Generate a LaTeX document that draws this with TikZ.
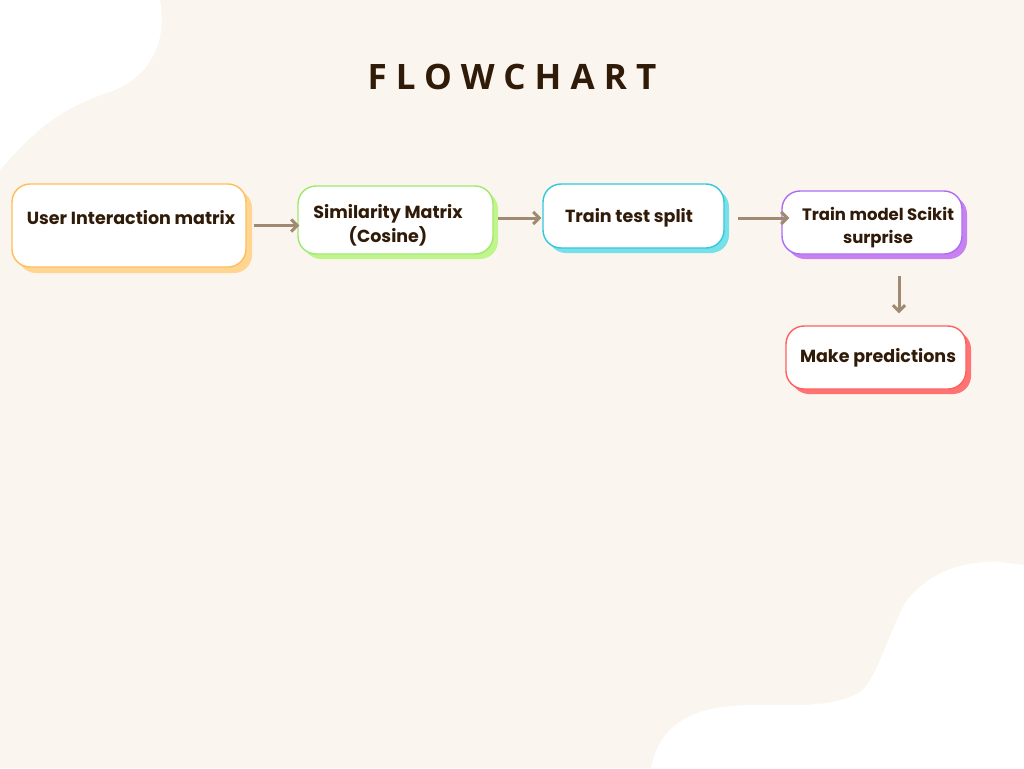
\documentclass[tikz,border=0pt]{standalone}
\usepackage{fontspec}
\setmainfont{Poppins}
\newfontfamily\titlefont[LetterSpace=26]{Open Sans}
\usetikzlibrary{arrows.meta,shadows}
\definecolor{bgcream}{RGB}{250,245,239}
\definecolor{inkbrown}{RGB}{48,26,8}
\definecolor{arrowtaupe}{RGB}{160,138,114}
\definecolor{orangeline}{RGB}{255,190,90}
\definecolor{orangeshade}{RGB}{255,213,146}
\definecolor{greenline}{RGB}{160,232,110}
\definecolor{greenshade}{RGB}{192,245,140}
\definecolor{cyanline}{RGB}{50,200,220}
\definecolor{cyanshade}{RGB}{120,224,232}
\definecolor{purpleline}{RGB}{170,110,245}
\definecolor{purpleshade}{RGB}{200,130,240}
\definecolor{redline}{RGB}{255,95,95}
\definecolor{redshade}{RGB}{255,115,115}

\begin{document}
\begin{tikzpicture}[x=1pt, y=-1pt,
    card/.style={draw=#1line, line width=1.4pt, fill=white, rounded corners=18pt,
        drop shadow={shadow xshift=5pt, shadow yshift=-5pt, fill=#1shade, opacity=1}},
    cardtext/.style={text=inkbrown, font=\fontsize{17.5}{24}\selectfont\bfseries, align=center},
    arr/.style={draw=arrowtaupe, line width=3pt, shorten >=5pt, -{Straight Barb[length=6pt, width=12pt]}}]
    \useasboundingbox (0,0) rectangle (1024,768);
    \fill[bgcream] (0,0) rectangle (1024,768);
    \fill[white] (0,0) -- (160,0) .. controls (168,45) and (148,78) .. (110,92)
        .. controls (60,108) and (35,130) .. (0,170) -- cycle;
    \fill[white] (651,768) .. controls (660,725) and (690,706) .. (750,705)
        .. controls (790,705) and (835,708) .. (860,692)
        .. controls (876,680) and (886,640) .. (905,603)
        .. controls (925,575) and (960,560) .. (1000,562) -- (1024,565) -- (1024,768) -- cycle;

    \node[text=inkbrown, font=\titlefont\fontsize{35}{40}\selectfont\bfseries] (title) at (512,77) {FLOWCHART};

    \node[card=orange, minimum width=234pt, minimum height=83pt, drop shadow={shadow xshift=6pt, shadow yshift=-6pt, fill=orangeshade, opacity=1}] (uim) at (129,225.5) {};
    \node[card=green, minimum width=195pt, minimum height=68pt] (sim) at (395.5,220) {};
    \node[card=cyan, minimum width=181pt, minimum height=64pt] (split) at (633.5,216) {};
    \node[card=purple, minimum width=180pt, minimum height=63pt] (train) at (872,222.5) {};
    \node[card=red, minimum width=180pt, minimum height=63pt] (pred) at (876,357.5) {};

    \node[cardtext] (uimtxt) at (131,218) {User Interaction matrix};
    \node[cardtext] (simtxt) at (388,225.5) {Similarity Matrix\\(Cosine)};
    \node[cardtext] (splittxt) at (629,218) {Train test split};
    \node[cardtext, font=\fontsize{16.5}{23}\selectfont\bfseries] (traintxt) at (878,227.5) {Train model Scikit\\surprise};
    \node[cardtext] (predtxt) at (878,358) {Make predictions};

    \draw[arr] ([xshift=7pt]uim.east) -- ([xshift=7pt]uim.east -| sim.west);
    \draw[arr] ([xshift=4pt, yshift=2pt]sim.east) -- ([xshift=4pt, yshift=2pt]sim.east -| split.west);
    \draw[arr] ([xshift=13pt, yshift=-2pt]split.east) -- ([xshift=13pt, yshift=-2pt]split.east -| train.west);
    \draw[arr] ([xshift=27pt, yshift=-21pt]train.south) -- ([xshift=23pt, yshift=7pt]pred.north);
\end{tikzpicture}
\end{document}
